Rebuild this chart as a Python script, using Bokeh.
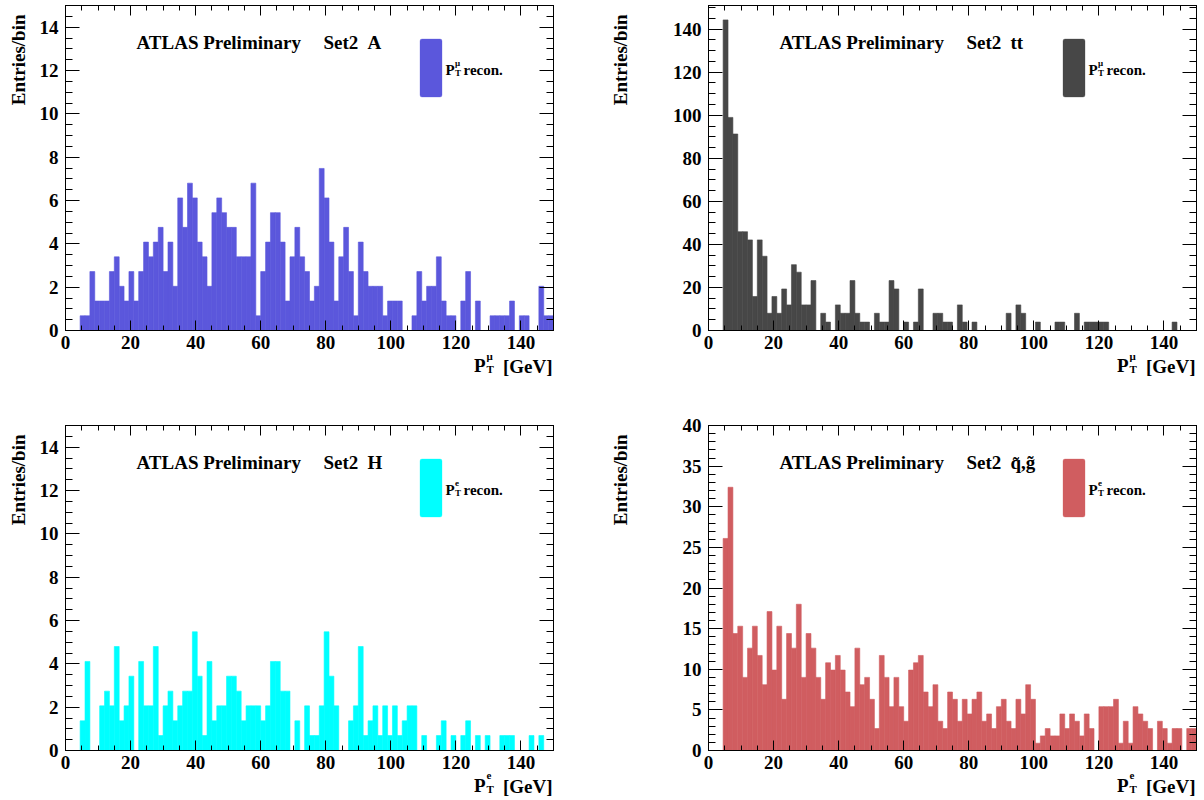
import math
import numpy as np
from bokeh.plotting import figure
from bokeh.models import (Range1d, LinearAxis, SingleIntervalTicker, Label, BoxAnnotation,
                          CustomJSTickFormatter)
from bokeh.layouts import column, row
from bokeh.embed import file_html
from bokeh.resources import INLINE

# ---------------- data ----------------
pt_min, pt_max, n_bins = 0.0, 150.0, 100
bin_edges = np.linspace(pt_min, pt_max, n_bins + 1)

# Set2 A : muon pT (entries/bin)
set2_A = [0, 0, 0, 0.68, 0.68, 2.72, 1.36, 1.36, 1.36, 2.72,
          3.40, 2.04, 1.36, 2.72, 1.36, 2.72, 4.08, 3.40, 4.08, 4.76,
          2.72, 4.08, 2.04, 6.12, 4.76, 6.80, 6.12, 4.08, 3.40, 2.04,
          5.44, 6.12, 5.44, 4.76, 4.76, 3.40, 3.40, 3.40, 6.80, 0.68,
          2.72, 4.08, 5.44, 5.44, 4.08, 1.36, 3.40, 4.76, 3.40, 2.72,
          1.36, 2.04, 7.48, 6.12, 4.08, 1.36, 3.40, 4.76, 2.72, 0.68,
          4.08, 2.72, 2.04, 2.04, 2.04, 0.68, 1.36, 1.36, 1.36, 0,
          0, 0.68, 2.72, 1.36, 2.04, 2.04, 3.40, 1.36, 0.68, 0.68,
          0, 1.36, 2.72, 0, 1.36, 0, 0, 0.68, 0.68, 0.68,
          0.68, 1.36, 0, 0.68, 0.68, 0, 0, 2.04, 0.68, 0.68]

# Set2 tt : muon pT
set2_tt = [0, 0, 0, 144.3, 99.0, 91.3, 45.9, 45.9, 42.1, 15.8,
           42.1, 34.5, 8.0, 15.8, 8.0, 19.3, 11.9, 30.6, 27.1, 11.9,
           11.9, 23.2, 0, 8.0, 3.9, 0, 11.9, 8.0, 8.0, 23.2,
           8.0, 3.9, 3.9, 0, 8.0, 3.9, 3.9, 23.2, 19.3, 0,
           3.9, 0, 3.9, 19.3, 0, 0, 8.0, 8.0, 3.9, 3.9,
           0, 11.9, 3.9, 0, 3.9, 0, 0, 0, 0, 0,
           0, 8.0, 0, 11.9, 8.0, 0, 0, 3.9, 0, 0,
           0, 3.9, 3.9, 0, 0, 8.0, 0, 3.9, 3.9, 3.9,
           3.9, 3.9, 0, 0, 0, 0, 0, 0, 0, 0,
           0, 0, 0, 0, 0, 3.9, 0, 0, 0, 0]

# Set2 H : electron pT
set2_H = [0, 0, 0, 1.37, 4.11, 0, 0, 2.06, 2.74, 2.06,
          4.80, 1.37, 2.06, 3.43, 0, 4.11, 2.06, 2.06, 4.80, 0.69,
          2.06, 2.74, 1.37, 2.06, 2.74, 2.74, 5.48, 3.43, 0.69, 4.11,
          1.37, 2.06, 2.06, 3.43, 3.43, 2.74, 1.37, 2.06, 2.06, 2.06,
          1.37, 2.06, 4.11, 4.11, 2.74, 2.74, 0, 1.37, 0, 2.06,
          0.69, 0.69, 2.06, 5.48, 3.43, 2.06, 0, 0, 1.37, 2.06,
          4.80, 0.69, 1.37, 2.06, 0.69, 2.06, 0.69, 2.06, 0.69, 1.37,
          2.06, 2.06, 0, 0.69, 0, 0, 0.69, 1.37, 0, 0.69,
          0, 0.69, 1.37, 0, 0.69, 0, 0.69, 0, 0, 0.69,
          0.69, 0.69, 0, 0, 0, 0.69, 0, 0.69, 0, 0]

# Set2 squark/gluino : electron pT
set2_sqgl = [0, 0, 0, 26.1, 32.4, 14.4, 15.3, 9.0, 12.6, 15.3,
             11.7, 8.1, 17.1, 9.9, 15.3, 6.3, 14.4, 12.6, 18.0, 9.0,
             14.4, 12.6, 9.0, 6.3, 10.8, 9.9, 11.7, 9.9, 7.2, 5.4,
             12.6, 8.1, 9.0, 6.3, 2.7, 11.7, 9.0, 5.4, 9.0, 5.4,
             3.6, 9.9, 10.8, 11.7, 7.2, 5.4, 8.1, 3.6, 2.7, 7.2,
             6.3, 3.6, 6.3, 4.5, 6.3, 7.2, 3.6, 4.5, 2.7, 5.4,
             6.3, 3.6, 2.7, 6.3, 4.5, 8.1, 6.3, 0.9, 1.8, 2.7,
             1.8, 1.8, 4.5, 2.7, 4.5, 3.6, 1.8, 4.5, 2.7, 0,
             5.4, 5.4, 5.4, 6.3, 0.9, 3.6, 0.9, 5.4, 4.5, 3.6,
             2.7, 0, 3.6, 2.7, 0.9, 2.7, 2.7, 0, 2.7, 2.7]

x_tick_step = 20
y_axis_max = {"A": 15, "tt": 151, "H": 15, "sqgl": 40}
y_tick_step = {"A": 2, "tt": 20, "H": 2, "sqgl": 5}
y_minor = {"A": 4, "tt": 4, "H": 4, "sqgl": 5}
set_tags = {"A": "A", "tt": "tt", "H": "H", "sqgl": "q\u0303,g\u0303"}
lepton = {"A": "\u03bc", "tt": "\u03bc", "H": "e", "sqgl": "e"}
colors = {"A": "#5b57dc", "tt": "#474747", "H": "#00ffff", "sqgl": "#d05d60"}
y_title = "Entries/bin"
x_unit = "[GeV]"
header = "ATLAS Preliminary"
legend_word = "recon."

FONT = "Liberation Serif"
FW, FH = 488, 325
PANEL_W, PANEL_H = 602, 400
YSTRIP_W = 34
LIFT = 5    # baseline correction (px) for Bokeh's alphabetic baseline
OVER = 12   # the x-title strip overlaps the tick-label border by this much


def style_axis(ax, tin, mtin, labels=True):
    ax.axis_line_color = "black"
    ax.axis_line_width = 1
    ax.major_tick_in = tin
    ax.major_tick_out = 0
    ax.minor_tick_in = mtin
    ax.minor_tick_out = 0
    ax.major_tick_line_color = "black"
    ax.minor_tick_line_color = "black"
    ax.major_label_text_font = FONT
    ax.major_label_text_font_style = "bold"
    ax.major_label_text_color = "black"
    if labels:
        ax.major_label_text_font_size = "19px"
    else:
        ax.formatter = CustomJSTickFormatter(code="return ''")
        ax.major_label_text_font_size = "1px"
        ax.major_label_standoff = 0


def blank_fig(w, h, xr, bl=0, br=0, transparent=False):
    f = figure(width=w, height=h, output_backend="svg", toolbar_location=None,
               x_range=Range1d(*xr), y_range=Range1d(0, h),
               min_border_left=bl, min_border_right=br, min_border_top=0, min_border_bottom=0,
               x_axis_type=None, y_axis_type=None)
    f.outline_line_color = None
    f.background_fill_color = None if transparent else "white"
    f.border_fill_color = None if transparent else "white"
    f.xgrid.visible = False
    f.ygrid.visible = False
    return f


def label(p, x, y, text, size, align="left", baseline="alphabetic", angle=0.0):
    p.add_layout(Label(x=x, y=y, text=text, text_font=FONT, text_font_style="bold",
                       text_font_size=f"{size}px", text_align=align,
                       text_baseline=baseline, angle=angle, text_color="black"))


def make_panel(key, values, frame_left, frame_top):
    ymax = y_axis_max[key]
    bl = frame_left - YSTRIP_W
    br = PANEL_W - frame_left - FW
    bt = frame_top
    bb = 25
    main_w = PANEL_W - YSTRIP_W
    main_h = bt + FH + bb
    p = figure(width=main_w, height=main_h, output_backend="svg",
               toolbar_location=None, x_range=Range1d(pt_min, pt_max),
               y_range=Range1d(0, ymax), min_border_left=bl, min_border_right=br,
               min_border_top=bt, min_border_bottom=bb,
               x_axis_type=None, y_axis_type=None)
    p.outline_line_color = "black"
    p.background_fill_color = "white"
    p.border_fill_color = "white"
    p.xgrid.visible = False
    p.ygrid.visible = False

    p.quad(left=bin_edges[:-1], right=bin_edges[1:], bottom=0, top=values,
           fill_color=colors[key], line_color=colors[key], line_width=0.6)

    xt = SingleIntervalTicker(interval=x_tick_step, num_minor_ticks=4)
    yt = SingleIntervalTicker(interval=y_tick_step[key], num_minor_ticks=y_minor[key])
    xb = LinearAxis(ticker=xt)
    style_axis(xb, 10, 5)
    xb.major_label_standoff = 5
    p.add_layout(xb, "below")
    xa = LinearAxis(ticker=xt)
    style_axis(xa, 10, 5, labels=False)
    p.add_layout(xa, "above")
    yl = LinearAxis(ticker=yt)
    style_axis(yl, 14, 7)
    yl.major_label_standoff = 7
    p.add_layout(yl, "left")
    yr = LinearAxis(ticker=yt)
    style_axis(yr, 14, 7, labels=False)
    p.add_layout(yr, "right")

    # frame-relative pixel -> data (for texts inside the frame)
    def dx(fx):
        return fx / FW * (pt_max - pt_min) + pt_min

    def dy(fy):
        return (FH - fy) / FH * ymax

    # header
    label(p, dx(71), dy(42 - LIFT), header, 19)
    label(p, dx(258), dy(42 - LIFT), "Set2", 19)
    label(p, dx(302), dy(42 - LIFT), set_tags[key], 19)

    # legend
    p.add_layout(BoxAnnotation(left=dx(354.5), right=dx(376.5), top=dy(33.5), bottom=dy(91.5),
                               fill_color=colors[key], fill_alpha=1.0, line_color=colors[key],
                               border_radius=2))
    label(p, dx(380), dy(69 - LIFT), "P", 15)
    label(p, dx(389.5), dy(62 - LIFT), lepton[key], 9)
    label(p, dx(389.5), dy(72 - LIFT), "T", 9)
    label(p, dx(398), dy(69 - LIFT), legend_word, 15)

    # x-axis title strip: transparent, same side borders as the main frame,
    # pulled up so that it overlaps the lower part of the tick-label border
    xs_h = PANEL_H - main_h
    xs = blank_fig(main_w, xs_h + OVER, (0, FW), bl=bl, br=br, transparent=True)
    xs.margin = (-OVER, 0, 0, 0)
    base = xs_h - (41 - bb) + LIFT      # baseline at frame bottom + 41 px
    label(xs, 487, base, x_unit, 19, align="right")
    label(xs, 420, base + 1, "P", 19, align="right")
    label(xs, 421, base + 11, lepton[key], 11)
    label(xs, 421, base - 2, "T", 11)

    # y-axis title strip
    ys = blank_fig(YSTRIP_W, PANEL_H, (0, YSTRIP_W))
    label(ys, 18, PANEL_H - (frame_top + 9), y_title, 19, align="right",
          baseline="middle", angle=math.pi / 2)

    return row(ys, column(p, xs))


p1 = make_panel("A", set2_A, 65, 5)
p2 = make_panel("tt", set2_tt, 106, 5)
p3 = make_panel("H", set2_H, 65, 25)
p4 = make_panel("sqgl", set2_sqgl, 106, 25)

page = column(row(p1, p2), row(p3, p4))
open("out.html", "w").write(file_html(page, INLINE))
